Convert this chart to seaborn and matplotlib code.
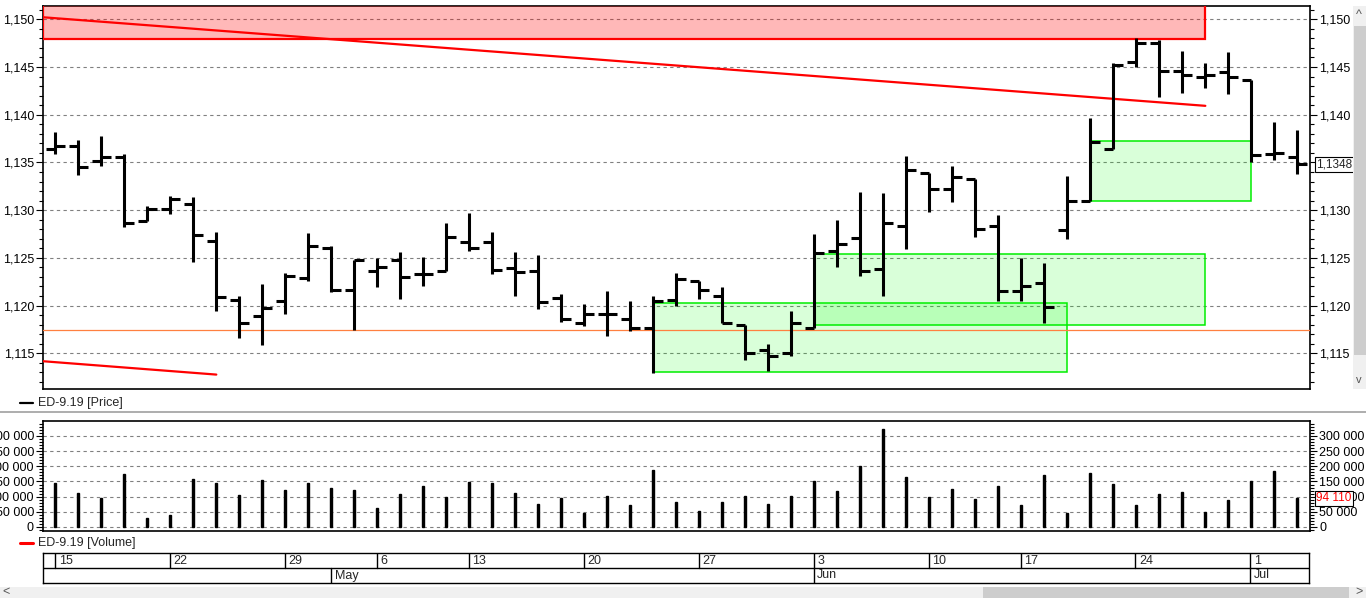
import numpy as np
import pandas as pd
import matplotlib
matplotlib.use("Agg")
import matplotlib.pyplot as plt
import matplotlib.ticker as mticker
from matplotlib.patches import Rectangle
from matplotlib.transforms import blended_transform_factory
import seaborn as sns

## trading days (Moscow exchange holidays dropped)
holidays = ['2019-05-01', '2019-05-09', '2019-06-12']
days = pd.bdate_range('2019-04-15', '2019-07-03')
days = days[~days.isin(pd.to_datetime(holidays))]

## ED-9.19 daily OHLC
opens = [1.13636, 1.13667, 1.13510, 1.13555, 1.12882, 1.13008, 1.13060, 1.12676, 1.12062, 1.11888,
         1.12045, 1.12285, 1.12600, 1.12160, 1.12359, 1.12474, 1.12327, 1.12359, 1.12662, 1.12662,
         1.12393, 1.12359, 1.12076, 1.11820, 1.11916, 1.11858, 1.11760, 1.12062, 1.12254, 1.12104,
         1.11793, 1.11532, 1.11504, 1.11765, 1.12568, 1.12704, 1.12383, 1.12830, 1.13388, 1.13220,
         1.13325, 1.12837, 1.12149, 1.12237, 1.12788, 1.13098, 1.13643, 1.14557, 1.14749, 1.14459,
         1.14400, 1.14452, 1.14365, 1.13587, 1.13552]
highs = [1.13817, 1.13730, 1.13779, 1.13587, 1.13043, 1.13144, 1.13137, 1.12774, 1.12104, 1.12230,
         1.12341, 1.12760, 1.12620, 1.12474, 1.12495, 1.12561, 1.12509, 1.12865, 1.12969, 1.12770,
         1.12561, 1.12533, 1.12121, 1.12017, 1.12156, 1.12043, 1.12103, 1.12341, 1.12254, 1.12195,
         1.11793, 1.11598, 1.11940, 1.12750, 1.12900, 1.13189, 1.13179, 1.13569, 1.13388, 1.13465,
         1.13325, 1.12952, 1.12498, 1.12446, 1.13360, 1.13964, 1.14539, 1.14801, 1.14784, 1.14669,
         1.14546, 1.14655, 1.14365, 1.13922, 1.13842]
lows = [1.13587, 1.13364, 1.13465, 1.12819, 1.12882, 1.12959, 1.12453, 1.11940, 1.11657, 1.11584,
        1.11909, 1.12254, 1.12139, 1.11748, 1.12195, 1.12069, 1.12209, 1.12359, 1.12568, 1.12331,
        1.12097, 1.11964, 1.11828, 1.11783, 1.11678, 1.11736, 1.11293, 1.11992, 1.12069, 1.11818,
        1.11434, 1.11312, 1.11476, 1.11765, 1.12400, 1.12313, 1.12104, 1.12592, 1.12976, 1.13081,
        1.12715, 1.12045, 1.12052, 1.11821, 1.12697, 1.13098, 1.13643, 1.14498, 1.14190, 1.14225,
        1.14285, 1.14215, 1.13503, 1.13528, 1.13381]
closes = [1.13667, 1.13447, 1.13555, 1.12861, 1.13008, 1.13112, 1.12736, 1.12087, 1.11821, 1.11978,
          1.12313, 1.12620, 1.12167, 1.12474, 1.12401, 1.12296, 1.12327, 1.12715, 1.12606, 1.12369,
          1.12351, 1.12034, 1.11863, 1.11916, 1.11916, 1.11760, 1.12043, 1.12278, 1.12160, 1.11821,
          1.11504, 1.11469, 1.11818, 1.12551, 1.12648, 1.12359, 1.12865, 1.13416, 1.13220, 1.13343,
          1.12802, 1.12149, 1.12202, 1.11982, 1.13091, 1.13709, 1.14522, 1.14749, 1.14459, 1.14417,
          1.14417, 1.14400, 1.13580, 1.13597, 1.13480]
volumes = [144000, 113700, 95300, 173300, 30300, 40000, 157000, 144000, 105000, 153800,
           121300, 144000, 127800, 123500, 62800, 108300, 134300, 97500, 149500, 144000,
           111600, 75800, 95300, 46600, 100700, 72600, 188400, 82300, 53100, 82300,
           101800, 74700, 101800, 150500, 120200, 202500, 322700, 165700, 97500, 126700,
           91000, 136500, 71500, 172200, 46600, 176500, 140800, 71500, 108300, 117000,
           49800, 87700, 150500, 185200, 94110]

## drawings on the chart (bar index, price)
channel_top = [(-0.53, 1.15021), (50, 1.14093)]
channel_bottom = [(-0.53, 1.11417), (7, 1.11277)]
support_level = 1.11745
red_zone = (-0.53, 50, 1.14791, 1.1530)          # x0, x1, y0, y1
green_zones = [(26, 44, 1.11305, 1.12027),
               (33, 50, 1.11797, 1.12540),
               (45, 52, 1.13095, 1.13723)]
last_price = 1.1348
last_volume = 94110

W, H = 1366, 598
def box(x0, y0, x1, y1):
    # pixel box (top-left origin) -> figure fraction rect
    return [x0 / W, (H - y1) / H, (x1 - x0) / W, (y1 - y0) / H]

sns.set_style("white")
plt.rcParams['font.family'] = ['Liberation Sans', 'DejaVu Sans']
plt.rcParams['font.size'] = 9

fig = plt.figure(figsize=(W / 100, H / 100), dpi=100)
ax = fig.add_axes(box(43, 6, 1310, 389))
axv = fig.add_axes(box(43, 421, 1310, 531))
axd = fig.add_axes(box(43, 553, 1309, 583))

idx = np.arange(len(closes))
xlim = (-0.535, 54.55)

    ## price bars
lw_bar = 2.2
ax.vlines(idx, lows, highs, color='black', lw=lw_bar, zorder=5)
ax.hlines(opens, idx - 0.4, idx, color='black', lw=lw_bar, zorder=5)
ax.hlines(closes, idx, idx + 0.4, color='black', lw=lw_bar, zorder=5)

    ## zones and lines
x0, x1, y0, y1 = red_zone
ax.add_patch(Rectangle((x0, y0), x1 - x0, y1 - y0, facecolor=(1, 0, 0, 0.28),
                       edgecolor='#ff0000', lw=1.6, zorder=3))
for gx0, gx1, gy0, gy1 in green_zones:
    ax.add_patch(Rectangle((gx0, gy0), gx1 - gx0, gy1 - gy0, facecolor=(0, 1, 0, 0.15),
                           edgecolor='#00ee00', lw=1.1, zorder=3))
for line in (channel_top, channel_bottom):
    ax.plot([p[0] for p in line], [p[1] for p in line], color='#ff0000', lw=1.6, zorder=4)
ax.axhline(support_level, color='#ff8040', lw=0.9, zorder=4)

ax.set_xlim(*xlim)
ax.set_ylim(1.11126, 1.15139)
ax.yaxis.set_major_locator(mticker.MultipleLocator(0.005))
ax.yaxis.set_minor_locator(mticker.MultipleLocator(0.001))
ax.yaxis.set_major_formatter(mticker.FuncFormatter(lambda v, p: f"{v:.3f}".replace('.', ',')))
ax.set_xticks([])

    ## volume
sns.barplot(x=idx, y=volumes, ax=axv, native_scale=True, width=0.1, color='black',
            saturation=1, errorbar=None, edgecolor='black', linewidth=1.0, zorder=5)
axv.set_xlim(*xlim)
axv.set_ylim(-13190, 349450)
axv.yaxis.set_major_locator(mticker.MultipleLocator(50000))
axv.yaxis.set_minor_locator(mticker.MultipleLocator(10000))
axv.yaxis.set_major_formatter(mticker.FuncFormatter(lambda v, p: f"{int(round(v)):,}".replace(',', ' ')))
axv.set_xticks([])
axv.set_xlabel('')
axv.set_ylabel('')

for a in (ax, axv):
    a.set_axisbelow(True)
    a.yaxis.grid(True, which='major', color='#808080', lw=0.8, ls=(0, (3, 3)))
    a.tick_params(axis='y', which='both', left=True, right=True, labelleft=True,
                  labelright=True, direction='out', width=0.8, colors='black', pad=1.5)
    a.tick_params(axis='y', which='major', length=5)
    a.tick_params(axis='y', which='minor', length=3)
    for s in a.spines.values():
        s.set_color('black')
        s.set_linewidth(1.2)

    ## last value boxes on the right
tr = blended_transform_factory(ax.transAxes, ax.transData)
ax.text(1.0048, last_price, f"{last_price:.4f}".replace('.', ','), transform=tr, ha='left',
        va='center', fontsize=8.5, zorder=10,
        bbox=dict(boxstyle='square,pad=0.12', fc='white', ec='black', lw=0.8))
trv = blended_transform_factory(axv.transAxes, axv.transData)
axv.text(1.0048, last_volume, f"{last_volume:,}".replace(',', ' '), transform=trv, ha='left',
         va='center', fontsize=8.5, color='red', zorder=10,
         bbox=dict(boxstyle='square,pad=0.12', fc='white', ec='black', lw=0.8))

    ## date panel
axd.set_xlim(*xlim)
axd.set_ylim(0, 2)
axd.set_xticks([])
axd.set_yticks([])
for s in axd.spines.values():
    s.set_color('black')
    s.set_linewidth(1.0)
axd.axhline(1, color='black', lw=1.0)
week = days.to_period('W')
week_start = [i for i in range(len(days)) if i == 0 or week[i] != week[i - 1]]
month_start = [i for i in range(1, len(days)) if days[i].month != days[i - 1].month]
for i in week_start:
    axd.plot([i, i], [1, 2], color='black', lw=1.0)
    axd.text(i + 0.15, 1.5, str(days[i].day), ha='left', va='center', fontsize=9)
for i in month_start:
    axd.plot([i, i], [0, 1], color='black', lw=1.0)
    axd.text(i + 0.15, 0.5, days[i].strftime('%b'), ha='left', va='center', fontsize=9)

    ## legend rows and window chrome
fig.add_artist(plt.Line2D([20 / W, 33 / W], [1 - 403 / H] * 2, color='black', lw=1.6))
fig.text(38 / W, 1 - 403 / H, 'ED-9.19 [Price]', ha='left', va='center', fontsize=9)
fig.add_artist(plt.Line2D([0, 1], [1 - 412 / H] * 2, color='#a0a0a0', lw=1.2))
fig.add_artist(plt.Line2D([20 / W, 33 / W], [1 - 543 / H] * 2, color='#ff0000', lw=2.2))
fig.text(38 / W, 1 - 543 / H, 'ED-9.19 [Volume]', ha='left', va='center', fontsize=9)

fig.add_artist(Rectangle(box(1353, 6, 1366, 389)[:2], 13 / W, 383 / H,
                         transform=fig.transFigure, fc='#f0f0f0', ec='none'))
fig.add_artist(Rectangle(box(1354, 26, 1366, 355)[:2], 12 / W, 329 / H,
                         transform=fig.transFigure, fc='#cdcdcd', ec='none'))
fig.text(1359 / W, 1 - 15 / H, '^', ha='center', va='center', fontsize=9, color='#555555')
fig.text(1359 / W, 1 - 380 / H, 'v', ha='center', va='center', fontsize=8, color='#555555')
fig.add_artist(Rectangle(box(0, 587, 1366, 598)[:2], 1, 11 / H,
                         transform=fig.transFigure, fc='#f0f0f0', ec='none'))
fig.add_artist(Rectangle(box(983, 587, 1349, 598)[:2], 366 / W, 11 / H,
                         transform=fig.transFigure, fc='#cdcdcd', ec='none'))
fig.text(6 / W, 1 - 592 / H, '<', ha='center', va='center', fontsize=9, color='#555555')
fig.text(1359 / W, 1 - 592 / H, '>', ha='center', va='center', fontsize=9, color='#555555')

fig.savefig('out.png', dpi=100, facecolor='white')
